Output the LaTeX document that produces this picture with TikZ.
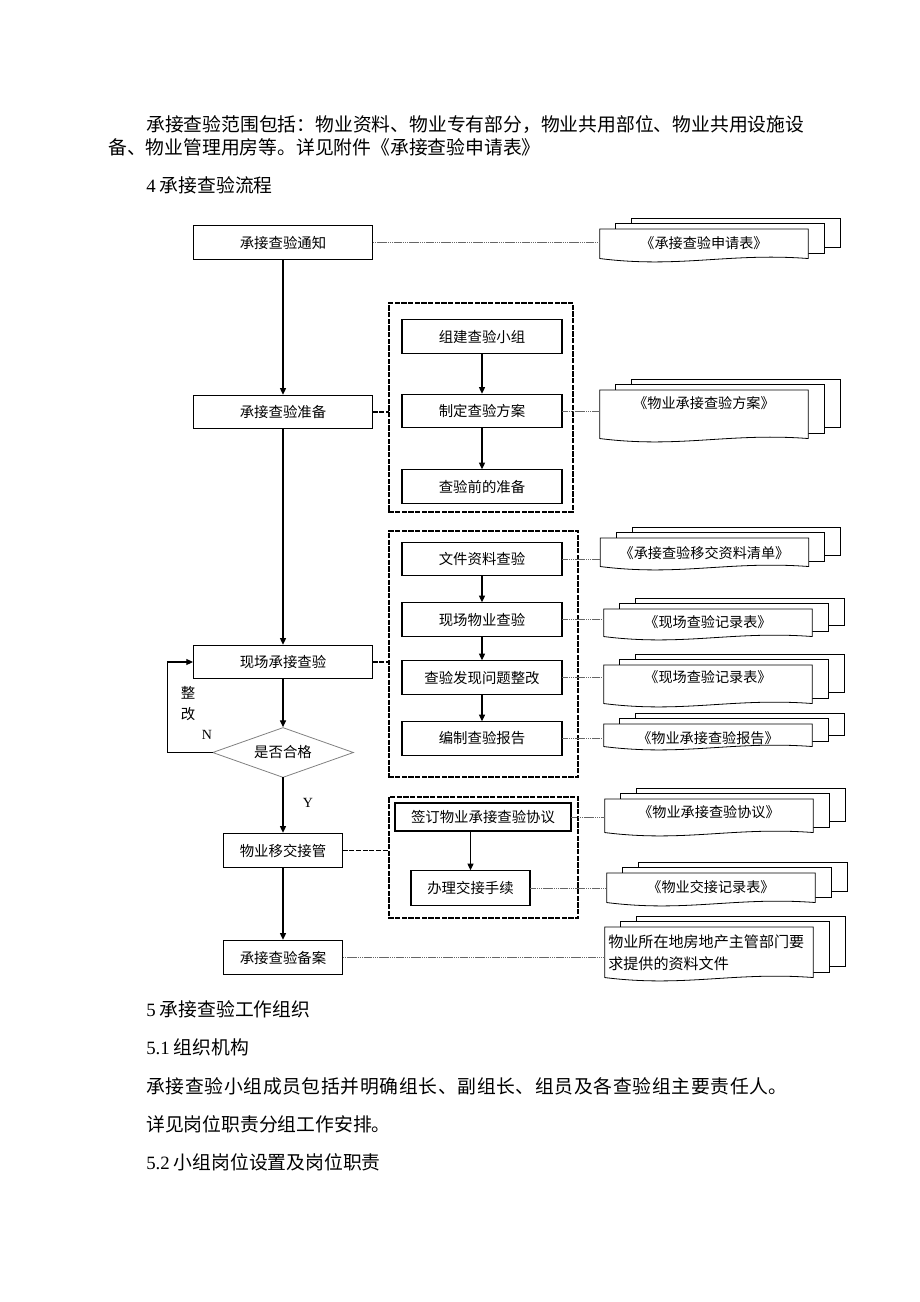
\documentclass[tikz,border=0pt]{standalone}
\usepackage{fontspec}
\setmainfont{Noto Sans CJK SC}
\newfontfamily\lat{Liberation Serif}
\usetikzlibrary{arrows.meta,calc,shapes.geometric}
\pgfdeclarelayer{background}
\pgfsetlayers{background,main}
\tikzset{
    >={Triangle[length=5pt,width=4.5pt]},
    chart/.style={
        box/.style={draw,thick,rectangle,align=center,inner sep=0pt,font=\fontsize{10.8}{13}\selectfont},
        mainbox/.style={box,minimum width=134.25pt,minimum height=25pt},
        subbox/.style={box,minimum width=120pt,minimum height=25pt},
        smallbox/.style={box,minimum width=89.25pt,minimum height=25.75pt},
        check/.style={diamond,draw=gray,line width=0.6pt,aspect=2.8,inner sep=0pt,minimum width=105.75pt,minimum height=37.5pt,font=\fontsize{10.8}{13}\selectfont},
        group/.style={draw,thick,dash pattern=on 3pt off 2pt,inner sep=0pt},
        docsheet/.style={inner sep=0pt,minimum width=156pt,anchor=north,font=\fontsize{10.6}{13}\selectfont},
        para/.style={anchor=west,inner sep=0pt,font=\fontsize{14.1}{17}\selectfont},
        tag/.style={inner sep=0pt,font=\fontsize{10.8}{15.75}\selectfont},
        link/.style={thick,dash pattern=on 3pt off 2pt},
        note/.style={densely dotted,gray!80!black,line width=0.6pt},
        every path/.append style={line cap=rect}
    }
}
% three stacked sheets behind a document node
\newcommand{\drawdocs}[1]{%
    \begin{pgfonlayer}{background}
        \foreach \k in {2,1}
            \draw[line width=0.6pt,fill=white] ([shift={(16*\k,-5.5*\k)}]#1.south west) rectangle ([shift={(16*\k,-5.5*\k)}]#1.north east);
        \draw[line width=0.6pt,fill=white] (#1.south west) -- (#1.north west) -- (#1.north east) -- (#1.south east)
            .. controls ($(#1.south west)!.62!(#1.south east)+(0,-6)$) and ($(#1.south west)!.38!(#1.south east)+(0,10)$) .. (#1.south west) -- cycle;
    \end{pgfonlayer}
}

\begin{document}
\begin{tikzpicture}[chart,x=0.75pt,y=-0.75pt]
    \useasboundingbox (0,0) rectangle (920,1302);

    \node[para] (t1) at (146,125) {承接查验范围包括：物业资料、物业专有部分，物业共用部位、物业共用设施设};
    \node[para] (t2) at (108,147) {备、物业管理用房等。详见附件《承接查验申请表》};
    \node[para] (t3) at (146,185) {{\lat 4} 承接查验流程};

    % main column
    \node[mainbox] (notice) at (283,242.5) {承接查验通知};
    \node[mainbox] (prep) at (283,412) {承接查验准备};
    \node[mainbox] (site) at (283,662) {现场承接查验};
    \node[check] (check) at (283,752.5) {是否合格};
    \node[smallbox] (hand) at (283,850.5) {物业移交接管};
    \node[smallbox] (archive) at (283,957.5) {承接查验备案};

    % dashed groups
    \node[group,minimum width=138pt,minimum height=156.75pt] (g1) at (481,407.5) {};
    \node[group,minimum width=141.75pt,minimum height=184.5pt] (g2) at (483.5,654) {};
    \node[group,minimum width=141.75pt,minimum height=90.75pt] (g3) at (483.5,857.5) {};

    \node[subbox] (team) at (482,336.5) {组建查验小组};
    \node[subbox] (plan) at (482,411) {制定查验方案};
    \node[subbox] (ready) at (482,486.5) {查验前的准备};
    \node[subbox] (files) at (482,559) {文件资料查验};
    \node[subbox] (field) at (482,619.5) {现场物业查验};
    \node[subbox] (fix) at (482,677.5) {查验发现问题整改};
    \node[subbox] (report) at (482,738.5) {编制查验报告};
    \node[box,minimum width=132pt,minimum height=21pt] (sign) at (483,817) {签订物业承接查验协议};
    \node[smallbox] (deal) at (470.5,888) {办理交接手续};

    % documents
    \node[docsheet,text height=14.5pt,text depth=7.25pt] (d1) at (704,229) {《承接查验申请表》};
    \node[docsheet,text height=13.75pt,text depth=22.25pt] (d2) at (704,390) {《物业承接查验方案》};
    \node[docsheet,text height=15.25pt,text depth=5.75pt] (d3) at (704.5,538) {《承接查验移交资料清单》};
    \node[docsheet,text height=13.5pt,text depth=6.75pt] (d4) at (708,609) {《现场查验记录表》};
    \node[docsheet,text height=13pt,text depth=15.5pt] (d5) at (708,665) {《现场查验记录表》};
    \node[docsheet,text height=14.5pt,text depth=2pt] (d6) at (708,724) {《物业承接查验报告》};
    \node[docsheet,text height=13.75pt,text depth=11pt] (d7) at (709,799) {《物业承接查验协议》};
    \node[docsheet,text height=14.5pt,text depth=7.25pt] (d8) at (711,873) {《物业交接记录表》};
    \node[docsheet,minimum height=37.5pt,text width=151pt,align=left,font=\fontsize{11.3}{16.5}\selectfont] (d9) at (709,927) {物业所在地房地产主管部门要\\求提供的资料文件};
    \foreach \i in {1,...,9}
        \drawdocs{d\i};

    % flow
    \draw[thick,->] (notice) -- (prep);
    \draw[thick,->] (prep) -- (site);
    \draw[thick,->] (site) -- (check);
    \draw[thick,->] (check) -- (hand);
    \draw[thick,->] (hand) -- (archive);
    \draw[thick,->] (check.west) -- ++(-45,0) |- (site.west);
    \draw[thick,->] (team) -- (plan);
    \draw[thick,->] (plan) -- (ready);
    \draw[thick,->] (files) -- (field);
    \draw[thick,->] (field) -- (fix);
    \draw[thick,->] (fix) -- (report);
    \draw[thick,->] (sign.south -| deal.north) -- (deal.north);

    \node[tag,align=center] (redo) at (188,703.5) {整\\改};
    \node[tag,font=\lat\fontsize{10.5}{12}\selectfont] (no) at (207,735) {N};
    \node[tag,font=\lat\fontsize{10.5}{12}\selectfont] (yes) at (308,803) {Y};

    % dashed links to the groups
    \draw[link] (prep.east) -- (prep.east -| g1.west);
    \draw[link] (site.east) -- (site.east -| g2.west);
    \draw[link] (hand.east) -- (hand.east -| g3.west);

    % dotted links to the documents
    \draw[note] (notice.east) -- (notice.east -| d1.west);
    \draw[note] (plan.east) -- (plan.east -| d2.west);
    \draw[note] (files.east) -- (files.east -| d3.west);
    \draw[note] (field.east) -- (field.east -| d4.west);
    \draw[note] (fix.east) -- (fix.east -| d5.west);
    \draw[note] (report.east) -- (report.east -| d6.west);
    \draw[note] (sign.east) -- (sign.east -| d7.west);
    \draw[note] (deal.east) -- (deal.east -| d8.west);
    \draw[note] (archive.east) -- (archive.east -| d9.west);

    \node[para] (t4) at (146,1009) {{\lat 5} 承接查验工作组织};
    \node[para] (t5) at (146,1047) {{\lat 5.1} 组织机构};
    \node[para] (t6) at (146,1086) {\addfontfeature{LetterSpace=3.5}承接查验小组成员包括并明确组长、副组长、组员及各查验组主要责任人。};
    \node[para] (t7) at (146,1124) {详见岗位职责分组工作安排。};
    \node[para] (t8) at (146,1162) {{\lat 5.2} 小组岗位设置及岗位职责};
\end{tikzpicture}
\end{document}
